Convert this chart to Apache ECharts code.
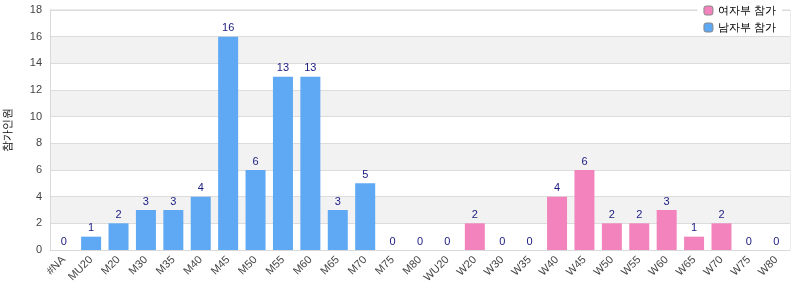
<!DOCTYPE html>
<html>
<head>
<meta charset="utf-8">
<script src="https://cdn.jsdelivr.net/npm/echarts@6/dist/echarts.min.js"></script>
<style>
  html, body { margin: 0; padding: 0; background: #fff; }
  #chart { width: 800px; height: 300px; }
</style>
</head>
<body>
<div id="chart"></div>
<script>
  // categories along the x axis
  const categories = ['#NA', 'MU20', 'M20', 'M30', 'M35', 'M40', 'M45', 'M50', 'M55', 'M60', 'M65', 'M70', 'M75', 'M80',
    'WU20', 'W20', 'W30', 'W35', 'W40', 'W45', 'W50', 'W55', 'W60', 'W65', 'W70', 'W75', 'W80'];
  // men's groups (#NA .. M80)
  const menValues = [0, 1, 2, 3, 3, 4, 16, 6, 13, 13, 3, 5, 0, 0];
  // women's groups (WU20 .. W80)
  const womenValues = [0, 2, 0, 0, 4, 6, 2, 2, 3, 1, 2, 0, 0];
  const seriesNames = ['여자부 참가', '남자부 참가'];
  const yName = '참가인원';

  const menData = categories.map((c, i) => i < menValues.length ? menValues[i] : '-');
  const womenData = categories.map((c, i) => i >= menValues.length ? womenValues[i - menValues.length] : '-');

  const chart = echarts.init(document.getElementById('chart'));
  const label = {
    show: true,
    position: 'top',
    color: '#1a1a80',
    fontSize: 11,
    fontFamily: 'Liberation Sans',
    distance: 3
  };
  const option = {
    animation: false,
    textStyle: {fontFamily: 'Liberation Sans'},
    grid: {left: 50, right: 10, top: 10, bottom: 50, outerBoundsMode: 'none'},
    legend: {
      orient: 'vertical',
      right: 18,
      top: 2,
      itemWidth: 9,
      itemHeight: 9,
      itemGap: 6,
      backgroundColor: '#fff',
      padding: [3, 6, 3, 6],
      textStyle: {fontSize: 11, color: '#000'},
      data: [
        {name: seriesNames[0], itemStyle: {borderColor: '#888', borderWidth: 1}},
        {name: seriesNames[1], itemStyle: {borderColor: '#888', borderWidth: 1}}
      ]
    },
    xAxis: {
      type: 'category',
      data: categories,
      axisLine: {lineStyle: {color: '#d9d9d9'}},
      axisTick: {show: false},
      axisLabel: {interval: 0, rotate: 45, color: '#444', fontSize: 11, margin: 8}
    },
    yAxis: {
      type: 'value',
      min: 0,
      max: 18,
      interval: 2,
      name: yName,
      nameLocation: 'middle',
      nameGap: 37,
      nameTextStyle: {fontSize: 11, color: '#000'},
      axisLine: {show: true, lineStyle: {color: '#d9d9d9'}},
      axisTick: {show: false},
      axisLabel: {color: '#444', fontSize: 11},
      splitLine: {lineStyle: {color: '#dcdcdc'}},
      splitArea: {show: true, areaStyle: {color: ['#ffffff', '#f2f2f2']}}
    },
    series: [
      {
        name: seriesNames[0],
        type: 'bar',
        stack: 'all',
        barWidth: 20,
        data: womenData,
        itemStyle: {color: '#f383bd'},
        label: label
      },
      {
        name: seriesNames[1],
        type: 'bar',
        stack: 'all',
        barWidth: 20,
        data: menData,
        itemStyle: {color: '#5ea8f4'},
        label: label
      }
    ]
  };
  chart.setOption(option);
  // right and top border of the plot box
  const rect = chart.getModel().getComponent('grid').coordinateSystem.getRect();
  chart.setOption({
    graphic: [{
      type: 'polyline',
      z: -1,
      shape: {points: [[rect.x, rect.y], [rect.x + rect.width, rect.y], [rect.x + rect.width, rect.y + rect.height]]},
      style: {stroke: '#d9d9d9', fill: null, lineWidth: 1}
    }]
  });
</script>
</body>
</html>
